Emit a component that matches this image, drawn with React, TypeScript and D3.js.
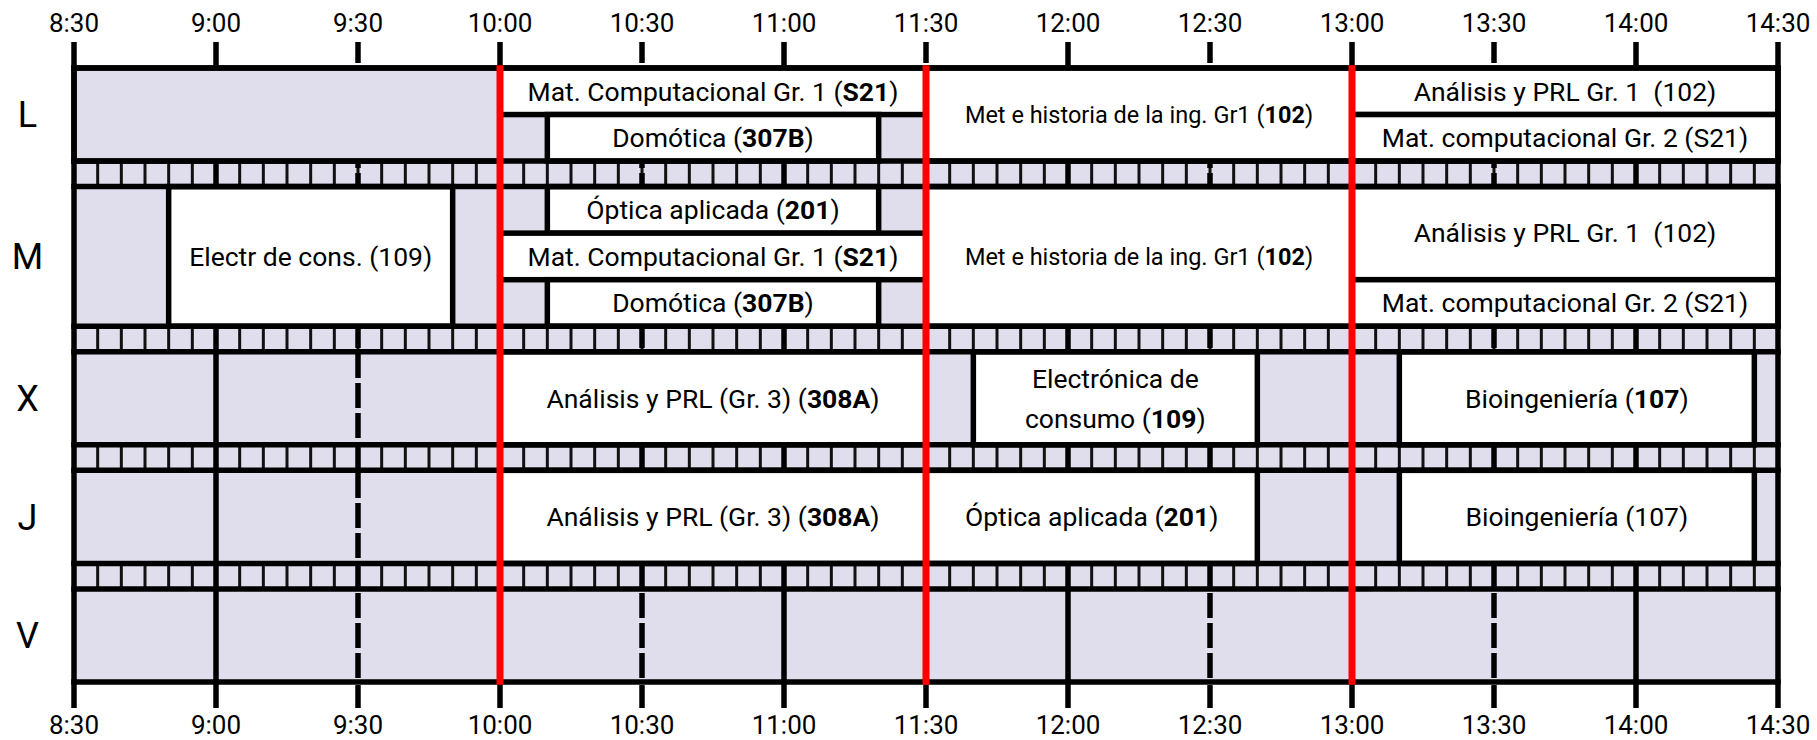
import React from 'react';
import * as d3 from 'd3';

// ---------- data ----------
const DAYS = ['L', 'M', 'X', 'J', 'V'];
const DAY_SLOTS = [2, 3, 2, 2, 2];
const TIME_TICKS = ['8:30', '9:00', '9:30', '10:00', '10:30', '11:00', '11:30', '12:00', '12:30', '13:00', '13:30', '14:00', '14:30'];
const RED_TIMES = ['10:00', '11:30', '13:00'];
const STEP_MIN = 5;

// [day, first slot, slot span, start, end, label]  (**bold**, \n = new line)
const CLASSES: [string, number, number, string, string, string][] = [
  ['L', 0, 1, '10:00', '11:30', 'Mat. Computacional Gr. 1 (**S21**)'],
  ['L', 1, 1, '10:10', '11:20', 'Domótica (**307B**)'],
  ['L', 0, 2, '11:30', '13:00', 'Met e historia de la ing. Gr1 (**102**)'],
  ['L', 0, 1, '13:00', '14:30', 'Análisis y PRL Gr. 1  (102)'],
  ['L', 1, 1, '13:00', '14:30', 'Mat. computacional Gr. 2 (S21)'],
  ['M', 0, 3, '8:50', '9:50', 'Electr de cons. (109)'],
  ['M', 0, 1, '10:10', '11:20', 'Óptica aplicada (**201**)'],
  ['M', 1, 1, '10:00', '11:30', 'Mat. Computacional Gr. 1 (**S21**)'],
  ['M', 2, 1, '10:10', '11:20', 'Domótica (**307B**)'],
  ['M', 0, 3, '11:30', '13:00', 'Met e historia de la ing. Gr1 (**102**)'],
  ['M', 0, 2, '13:00', '14:30', 'Análisis y PRL Gr. 1  (102)'],
  ['M', 2, 1, '13:00', '14:30', 'Mat. computacional Gr. 2 (S21)'],
  ['X', 0, 2, '10:00', '11:30', 'Análisis y PRL (Gr. 3) (**308A**)'],
  ['X', 0, 2, '11:40', '12:40', 'Electrónica de\nconsumo (**109**)'],
  ['X', 0, 2, '13:10', '14:25', 'Bioingeniería (**107**)'],
  ['J', 0, 2, '10:00', '11:30', 'Análisis y PRL (Gr. 3) (**308A**)'],
  ['J', 0, 2, '11:30', '12:40', 'Óptica aplicada (**201**)'],
  ['J', 0, 2, '13:10', '14:25', 'Bioingeniería (107)'],
];

// blocked (grey) periods drawn as boxes
const FREE_BLOCKS: [string, number, number, string, string][] = [
  ['L', 0, 2, '8:30', '10:00'],
];

// ---------- styles / layout ----------
const W = 1817;
const H = 740;
const GREY = '#e0deec';
const RED = '#ff0000';
const SW = 5.5;
const FONT = 'Roboto, "Noto Sans", sans-serif';
const LABEL_SIZE = 26.5;
const SMALL_SIZE = 23.5;
const SMALL_TEXT_PREFIX = 'Met e historia';
const TOP = 68;
const SLOT_H = 46.55;
const STRIPE_H = 25.5;
const TICK_TOP = 42;
const TICK_BOTTOM = 708;

const toMin = (s: string) => {
  const [h, m] = s.split(':').map(Number);
  return h * 60 + m;
};

function parseLabel(label: string) {
  return label.split('\n').map((line) =>
    line.split('**').map((t, i) => ({ t, bold: i % 2 === 1 })).filter((p) => p.t.length > 0)
  );
}

export default function App() {
  const t0 = toMin(TIME_TICKS[0]);
  const t1 = toMin(TIME_TICKS[TIME_TICKS.length - 1]);
  const x = d3.scaleLinear().domain([t0, t1]).range([74, 1778]);
  const x0 = x(t0);
  const x1 = x(t1);

  // vertical layout of days
  const dayTop: number[] = [];
  const dayBottom: number[] = [];
  let cur = TOP;
  DAYS.forEach((_, i) => {
    dayTop.push(cur);
    cur += DAY_SLOTS[i] * SLOT_H;
    dayBottom.push(cur);
    if (i < DAYS.length - 1) cur += STRIPE_H;
  });
  const bottom = dayBottom[dayBottom.length - 1];
  const dayIndex = (d: string) => DAYS.indexOf(d);
  const slotY = (d: string, s: number) => dayTop[dayIndex(d)] + s * SLOT_H;

  const stripes = DAYS.slice(0, -1).map((_, i) => [dayBottom[i], dayTop[i + 1]]);
  const fiveMin = d3.range(t0 + STEP_MIN, t1, STEP_MIN);
  const gridTimes = TIME_TICKS.slice(1, -1).map(toMin);

  const lines: { y: number }[] = [];
  DAYS.forEach((_, i) => {
    lines.push({ y: dayTop[i] });
    lines.push({ y: dayBottom[i] });
  });

  const renderText = (label: string, cx: number, cy: number, size: number, key: string) => {
    const rows = parseLabel(label);
    const lh = 40;
    const start = cy - ((rows.length - 1) * lh) / 2;
    return (
      <text key={key} x={cx} textAnchor="middle" fontFamily={FONT} fontSize={size} fill="#000" style={{ whiteSpace: 'pre' }}>
        {rows.map((parts, li) => (
          <tspan key={li} x={cx} y={start + li * lh} dy="0.35em">
            {parts.map((p, pi) => (
              <tspan key={pi} fontWeight={p.bold ? 700 : 400}>{p.t}</tspan>
            ))}
          </tspan>
        ))}
      </text>
    );
  };

  return (
    <svg width={W} height={H} style={{ position: 'absolute', left: 0, top: 0, background: '#fff' }}>
      <rect x={0} y={0} width={W} height={H} fill="#fff" />
      {/* day backgrounds */}
      {DAYS.map((d, i) => (
        <rect key={'bg' + d} x={x0} y={dayTop[i]} width={x1 - x0} height={dayBottom[i] - dayTop[i]} fill={GREY} />
      ))}
      {/* stripes */}
      {stripes.map(([a, b], i) => (
        <g key={'st' + i}>
          <rect x={x0} y={a} width={x1 - x0} height={b - a} fill={GREY} />
          {fiveMin.map((t) => (
            <line key={t} x1={x(t)} x2={x(t)} y1={a} y2={b} stroke="#111" strokeWidth={3} />
          ))}
        </g>
      ))}
      {/* grid lines */}
      {gridTimes.map((t) => {
        const hour = t % 60 === 0;
        if (hour) {
          return <line key={'g' + t} x1={x(t)} x2={x(t)} y1={TICK_TOP} y2={TICK_BOTTOM} stroke="#000" strokeWidth={SW} />;
        }
        return (
          <g key={'g' + t}>
            <line x1={x(t)} x2={x(t)} y1={TICK_TOP} y2={63} stroke="#000" strokeWidth={SW} />
            <line x1={x(t)} x2={x(t)} y1={TOP} y2={bottom} stroke="#000" strokeWidth={SW} strokeDasharray="25 5" strokeDashoffset={15} />
            <line x1={x(t)} x2={x(t)} y1={bottom + 3} y2={TICK_BOTTOM} stroke="#000" strokeWidth={SW} />
          </g>
        );
      })}
      {/* free blocks */}
      {FREE_BLOCKS.map(([d, s, n, a, b], i) => (
        <rect key={'f' + i} x={x(toMin(a))} y={slotY(d, s)} width={x(toMin(b)) - x(toMin(a))} height={n * SLOT_H} fill={GREY} stroke="#000" strokeWidth={SW} />
      ))}
      {/* classes */}
      {CLASSES.map(([d, s, n, a, b], i) => (
        <rect key={'c' + i} x={x(toMin(a))} y={slotY(d, s)} width={x(toMin(b)) - x(toMin(a))} height={n * SLOT_H} fill="#fff" stroke="#000" strokeWidth={SW} />
      ))}
      {/* horizontal lines */}
      {lines.map((l, i) => (
        <line key={'h' + i} x1={x0 - SW / 2} x2={x1 + SW / 2} y1={l.y} y2={l.y} stroke="#000" strokeWidth={SW} />
      ))}
      {/* borders */}
      <line x1={x0} x2={x0} y1={TICK_TOP} y2={TICK_BOTTOM} stroke="#000" strokeWidth={SW} />
      <line x1={x1} x2={x1} y1={TICK_TOP} y2={TICK_BOTTOM} stroke="#000" strokeWidth={SW} />
      {/* red lines */}
      {RED_TIMES.map((t) => (
        <line key={'r' + t} x1={x(toMin(t))} x2={x(toMin(t))} y1={TOP - SW / 2} y2={bottom + SW / 2} stroke={RED} strokeWidth={7} />
      ))}
      {/* class labels */}
      {CLASSES.map(([d, s, n, a, b, label], i) => {
        const cx = (x(toMin(a)) + x(toMin(b))) / 2;
        const cy = slotY(d, s) + (n * SLOT_H) / 2;
        const size = label.startsWith(SMALL_TEXT_PREFIX) ? SMALL_SIZE : LABEL_SIZE;
        return renderText(label, cx, cy, size, 't' + i);
      })}
      {/* day labels */}
      {DAYS.map((d, i) => (
        <text key={'d' + d} x={27.5} y={(dayTop[i] + dayBottom[i]) / 2} dy="0.35em" textAnchor="middle" fontFamily={FONT} fontSize={36} fill="#000">
          {d}
        </text>
      ))}
      {/* time tick labels */}
      {TIME_TICKS.map((t) => (
        <g key={'tk' + t}>
          <text x={x(toMin(t))} y={23} dy="0.35em" textAnchor="middle" fontFamily={FONT} fontSize={26} fill="#000">{t}</text>
          <text x={x(toMin(t))} y={725} dy="0.35em" textAnchor="middle" fontFamily={FONT} fontSize={26} fill="#000">{t}</text>
        </g>
      ))}
    </svg>
  );
}
